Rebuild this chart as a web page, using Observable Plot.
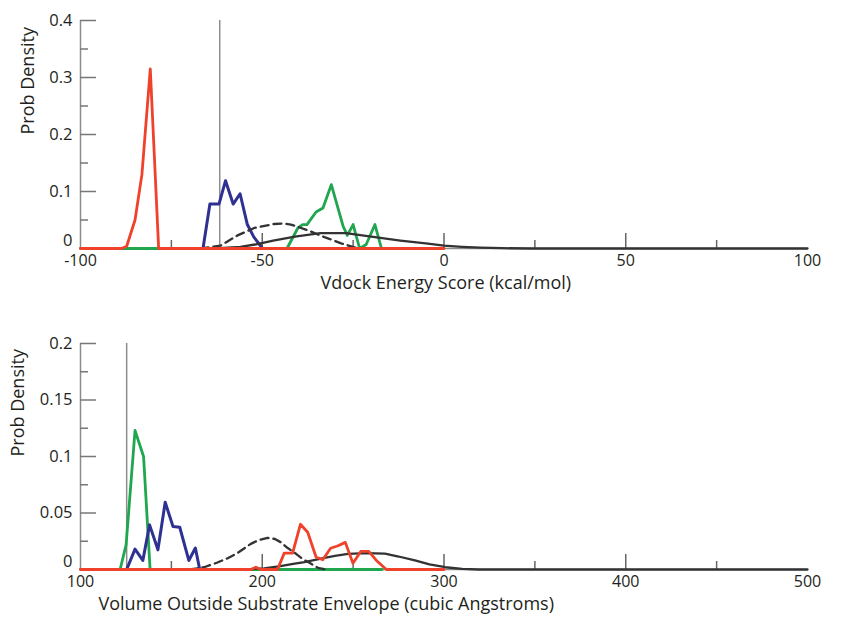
<!DOCTYPE html>
<html><head><meta charset="utf-8">
<script src="https://cdn.jsdelivr.net/npm/d3@7"></script>
<script src="https://cdn.jsdelivr.net/npm/@observablehq/plot@0.6"></script>
<style>
body{margin:0;background:#fff;}
#chart{width:844px;height:618px;}
#chart svg{display:block;}
</style></head><body><div id="chart"></div>
<script>
// ---------- Top panel: Vdock Energy Score ----------
const topRedX   = [-100, -88.7, -87.3, -85.0, -83.1, -80.8, -78.5, 0];
const topRedY   = [0, 0, 0.004, 0.05, 0.13, 0.315, 0, 0];
const topBlueX  = [-66.3, -64.4, -61.9, -60.1, -58.0, -56.1, -54.1, -52.3, -49.9];
const topBlueY  = [0, 0.078, 0.078, 0.119, 0.078, 0.096, 0.042, 0.02, 0];
const topGreenX = [-100, -43.2, -40.2, -38.9, -37.7, -35.2, -33.3, -31.0, -27.8, -26.6, -25.0, -23.2, -21.4, -19.0, -17.2];
const topGreenY = [0, 0, 0.036, 0.042, 0.042, 0.064, 0.071, 0.112, 0.040, 0.023, 0.042, 0, 0.007, 0.042, 0];
const topDashX  = [-67, -61.5, -56.8, -52.2, -46.7, -44.1, -42.1, -37.5, -32.9, -28.3, -24.6, -23];
const topDashY  = [0, 0.005, 0.023, 0.036, 0.043, 0.044, 0.042, 0.032, 0.020, 0.009, 0.002, 0];
const topBlackX = [-63, -56, -52, -47, -41, -34, -27, -19, -12, -5, 0, 5, 10, 16, 24, 100];
const topBlackY = [0, 0.003, 0.007, 0.014, 0.021, 0.027, 0.027, 0.020, 0.014, 0.009, 0.005, 0.003, 0.0015, 0.0005, 0, 0];
const topVLineX = [-61.7];
const topXLabels = [-100, -50, 0, 50, 100];
const topXMajor  = [-50, 0, 50];
const topXMinor  = [-75, -25, 25, 75];
const topYLabels = [0, 0.1, 0.2, 0.3, 0.4];
const topYMinor  = [0.05, 0.15, 0.25, 0.35];

// ---------- Bottom panel: Volume outside substrate envelope ----------
const botRedX   = [100, 193.7, 196.5, 199.2, 208.4, 212.1, 216.7, 221.0, 225.0, 229.6, 233.3, 237.6, 241.7, 245.7, 249.9, 254.2, 258.6, 262.8, 268.3, 300];
const botRedY   = [0, 0, 0.002, 0, 0, 0.0145, 0.0145, 0.040, 0.033, 0.011, 0.0086, 0.0188, 0.021, 0.024, 0.0056, 0.016, 0.016, 0.008, 0, 0];
const botGreenX = [100, 121.8, 125.1, 130.0, 134.7, 138.3, 266];
const botGreenY = [0, 0, 0.022, 0.123, 0.100, 0, 0];
const botBlueX  = [125.4, 130.0, 134.3, 138.0, 142.6, 146.6, 150.9, 154.6, 159.6, 163.2, 165.6];
const botBlueY  = [0, 0.018, 0.008, 0.0395, 0.0174, 0.0595, 0.038, 0.0374, 0.008, 0.019, 0];
const botDashX  = [160, 168, 175, 181, 186.3, 193.7, 198, 202.9, 207, 210.3, 214, 218.6, 222.5, 226.9, 230.6, 235];
const botDashY  = [0, 0.002, 0.006, 0.010, 0.0145, 0.0227, 0.026, 0.028, 0.027, 0.024, 0.019, 0.0139, 0.009, 0.005, 0.0015, 0];
const botBlackX = [190, 201, 210, 217, 223.2, 234.3, 240, 247.2, 257, 267.5, 275, 284, 292, 300.7, 310, 319, 500];
const botBlackY = [0, 0.001, 0.003, 0.005, 0.0065, 0.0103, 0.012, 0.0139, 0.0145, 0.014, 0.0115, 0.008, 0.0045, 0.002, 0.0005, 0, 0];
const botVLineX = [125.4];
const botXLabels = [100, 200, 300, 400, 500];
const botXMajor  = [200, 300, 400];
const botXMinor  = [150, 250, 350, 450];
const botYLabels = [0, 0.05, 0.1, 0.15, 0.2];
const botYMinor  = [0.025, 0.075, 0.125, 0.175];

const RED = "#f0412b", BLUE = "#2e3192", GREEN = "#1fa64f", BLACK = "#333333", GRAY = "#8c8c8c", TEXT = "#231f20";
const zip = (xs, ys) => xs.map((x, i) => ({x, y: ys[i]}));

function panel(o) {
  const W = 844, mL = 80, mR = 37;
  const plotW = W - mL - mR;
  const plotH = o.height - o.marginTop - o.marginBottom;
  const yMax = o.yDomain[1];
  return Plot.plot({
    width: W, height: o.height,
    marginLeft: mL, marginRight: mR, marginTop: o.marginTop, marginBottom: o.marginBottom,
    style: {fontFamily: "'Open Sans', sans-serif", fontSize: "16px", color: TEXT, background: "#fff", overflow: "visible"},
    x: {domain: o.xDomain},
    y: {domain: o.yDomain},
    marks: [
      // axis lines
      Plot.ruleY([0], {stroke: GRAY, strokeWidth: 1.5}),
      Plot.ruleX([o.xDomain[0]], {stroke: GRAY, strokeWidth: 1.5}),
      // inward ticks
      Plot.tickX(o.xMajor, {x: d => d, stroke: "#666", strokeWidth: 1.5, insetTop: plotH - 15}),
      Plot.tickX(o.xMinor, {x: d => d, stroke: "#666", strokeWidth: 1.5, insetTop: plotH - 8}),
      Plot.tickY(o.yLabels.filter(d => d !== 0), {y: d => d, stroke: "#777", strokeWidth: 1.5, insetRight: plotW - 16}),
      Plot.tickY(o.yMinor, {y: d => d, stroke: "#777", strokeWidth: 1.5, insetRight: plotW - 8}),
      // tick labels
      Plot.axisX(o.xLabels, {tickSize: 0, tickPadding: 6, fontSize: 16, label: null, tickFormat: d => String(d)}),
      Plot.axisY(o.yLabels.filter(d => d !== 0), {tickSize: 0, tickPadding: 8, fontSize: 16.5, label: null, tickFormat: d => String(d)}),
      Plot.axisY([0], {tickSize: 0, tickPadding: 8, fontSize: 16.5, label: null, dy: -8, tickFormat: d => String(d)}),
      // reference line
      Plot.ruleX(o.vline, {x: d => d, y1: 0, y2: yMax, stroke: GRAY, strokeWidth: 1.5}),
      // series
      Plot.line(zip(o.greenX, o.greenY), {x: "x", y: "y", stroke: GREEN, strokeWidth: 2.8}),
      Plot.line(zip(o.blueX, o.blueY), {x: "x", y: "y", stroke: BLUE, strokeWidth: 3}),
      Plot.line(zip(o.dashX, o.dashY), {x: "x", y: "y", stroke: BLACK, strokeWidth: 2.3, strokeDasharray: "8,5"}),
      Plot.line(zip(o.blackX, o.blackY), {x: "x", y: "y", stroke: BLACK, strokeWidth: 2.3}),
      Plot.line(zip(o.redX, o.redY), {x: "x", y: "y", stroke: RED, strokeWidth: 2.8}),
      // titles
      Plot.text([o.yTitle], {text: d => d, frameAnchor: "left", rotate: -90, dx: o.yTitleDx, fontSize: 18, fill: TEXT}),
      Plot.text([o.xTitle], {text: d => d, frameAnchor: "bottom-left", textAnchor: "start", dx: o.xTitleDx, dy: 40, fontSize: 18, fill: TEXT})
    ]
  });
}

const topChart = panel({
  height: 310, marginTop: 20, marginBottom: 62,
  xDomain: [-100, 100], yDomain: [0, 0.4],
  xLabels: topXLabels, xMajor: topXMajor, xMinor: topXMinor,
  yLabels: topYLabels, yMinor: topYMinor,
  redX: topRedX, redY: topRedY, blueX: topBlueX, blueY: topBlueY,
  greenX: topGreenX, greenY: topGreenY, dashX: topDashX, dashY: topDashY,
  blackX: topBlackX, blackY: topBlackY, vline: topVLineX,
  yTitle: "Prob Density", yTitleDx: -52,
  xTitle: "Vdock Energy Score (kcal/mol)", xTitleDx: 240
});
const botChart = panel({
  height: 308, marginTop: 33, marginBottom: 49,
  xDomain: [100, 500], yDomain: [0, 0.2],
  xLabels: botXLabels, xMajor: botXMajor, xMinor: botXMinor,
  yLabels: botYLabels, yMinor: botYMinor,
  redX: botRedX, redY: botRedY, blueX: botBlueX, blueY: botBlueY,
  greenX: botGreenX, greenY: botGreenY, dashX: botDashX, dashY: botDashY,
  blackX: botBlackX, blackY: botBlackY, vline: botVLineX,
  yTitle: "Prob Density", yTitleDx: -62,
  xTitle: "Volume Outside Substrate Envelope (cubic Angstroms)", xTitleDx: 18
});
document.getElementById("chart").append(topChart, botChart);
</script></body></html>
